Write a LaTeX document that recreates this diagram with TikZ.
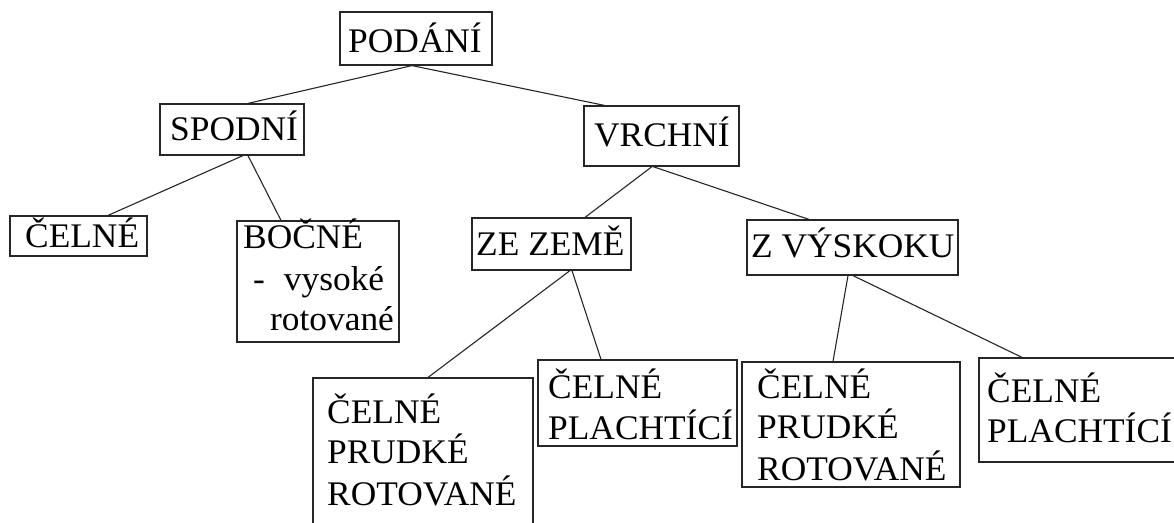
\documentclass[tikz,border=0pt]{standalone}
\usepackage{fontspec}
\setmainfont{Liberation Serif}[FakeStretch=1.025]
\begin{document}
\begin{tikzpicture}[x=1pt,y=-1pt,
  box/.style={draw=black!85,line width=1.2pt,inner sep=0pt},
  txt/.style={anchor=base west,inner sep=0pt,font=\fontsize{34.5}{41}\selectfont},
  link/.style={draw=black!85,line width=1.1pt}]
\clip (0,0) rectangle (1174,522);
\fill[white] (0,0) rectangle (1174,522);
% boxes
\node[box,minimum width=152pt,minimum height=53pt] (podani) at (416,38.5) {};
\node[box,minimum width=144pt,minimum height=51pt] (spodni) at (232,129.5) {};
\node[box,minimum width=155pt,minimum height=60pt] (vrchni) at (661.5,136) {};
\node[box,minimum width=137pt,minimum height=40pt] (celne) at (78.5,236) {};
\node[box,minimum width=162pt,minimum height=121pt] (bocne) at (318,281.5) {};
\node[box,minimum width=159pt,minimum height=52pt] (zezeme) at (551.5,244) {};
\node[box,minimum width=211pt,minimum height=55pt] (zvyskoku) at (852.5,247.5) {};
\node[box,minimum width=220pt,minimum height=172pt] (cprA) at (423,464) {};
\node[box,minimum width=199pt,minimum height=86pt] (cpA) at (637.5,403) {};
\node[box,minimum width=218pt,minimum height=125pt] (cprB) at (851,424.5) {};
\node[box,minimum width=211pt,minimum height=104pt] (cpB) at (1084.5,410) {};
% texts
\node[txt] (podani-t) at (348,52) {PODÁNÍ};
\node[txt] (spodni-t) at (170,140) {SPODNÍ};
\node[txt] (vrchni-t) at (594,146) {VRCHNÍ};
\node[txt] (celne-t) at (25,247) {ČELNÉ};
\node[txt] (bocne-t1) at (243,248) {BOČNÉ};
\node[txt] (bocne-t2) at (253,290) {-\hspace{19pt}vysoké};
\node[txt] (bocne-t3) at (270,330) {rotované};
\node[txt] (zezeme-t) at (476,255) {ZE ZEMĚ};
\node[txt] (zvyskoku-t) at (751,257) {Z VÝSKOKU};
\node[txt] (cprA-t1) at (327,423) {ČELNÉ};
\node[txt] (cprA-t2) at (327,463) {PRUDKÉ};
\node[txt] (cprA-t3) at (327,505) {ROTOVANÉ};
\node[txt] (cpA-t1) at (548,398) {ČELNÉ};
\node[txt] (cpA-t2) at (548,439) {PLACHTÍCÍ};
\node[txt] (cprB-t1) at (757,398) {ČELNÉ};
\node[txt] (cprB-t2) at (757,438) {PRUDKÉ};
\node[txt] (cprB-t3) at (757,480) {ROTOVANÉ};
\node[txt] (cpB-t1) at (987,402) {ČELNÉ};
\node[txt] (cpB-t2) at (987,442) {PLACHTÍCÍ};
% connectors
\draw[link] ([xshift=-4pt]podani.south) -- ([xshift=16pt]spodni.north);
\draw[link] ([xshift=-4pt]podani.south) -- ([xshift=-57pt]vrchni.north);
\draw[link] ([xshift=11pt]spodni.south) -- ([xshift=29.5pt]celne.north);
\draw[link] ([xshift=16pt]spodni.south) -- ([xshift=-37pt]bocne.north);
\draw[link] ([xshift=-9.5pt]vrchni.south) -- ([xshift=33.5pt]zezeme.north);
\draw[link] ([xshift=-8.5pt]vrchni.south) -- ([xshift=-43.5pt]zvyskoku.north);
\draw[link] ([xshift=18.5pt]zezeme.south) -- ([xshift=5pt]cprA.north);
\draw[link] ([xshift=20.5pt]zezeme.south) -- ([xshift=-36.5pt]cpA.north);
\draw[link] ([xshift=-4.5pt]zvyskoku.south) -- ([xshift=-18pt]cprB.north);
\draw[link] ([xshift=0.5pt]zvyskoku.south) -- ([xshift=-62.5pt]cpB.north);
\end{tikzpicture}
\end{document}
